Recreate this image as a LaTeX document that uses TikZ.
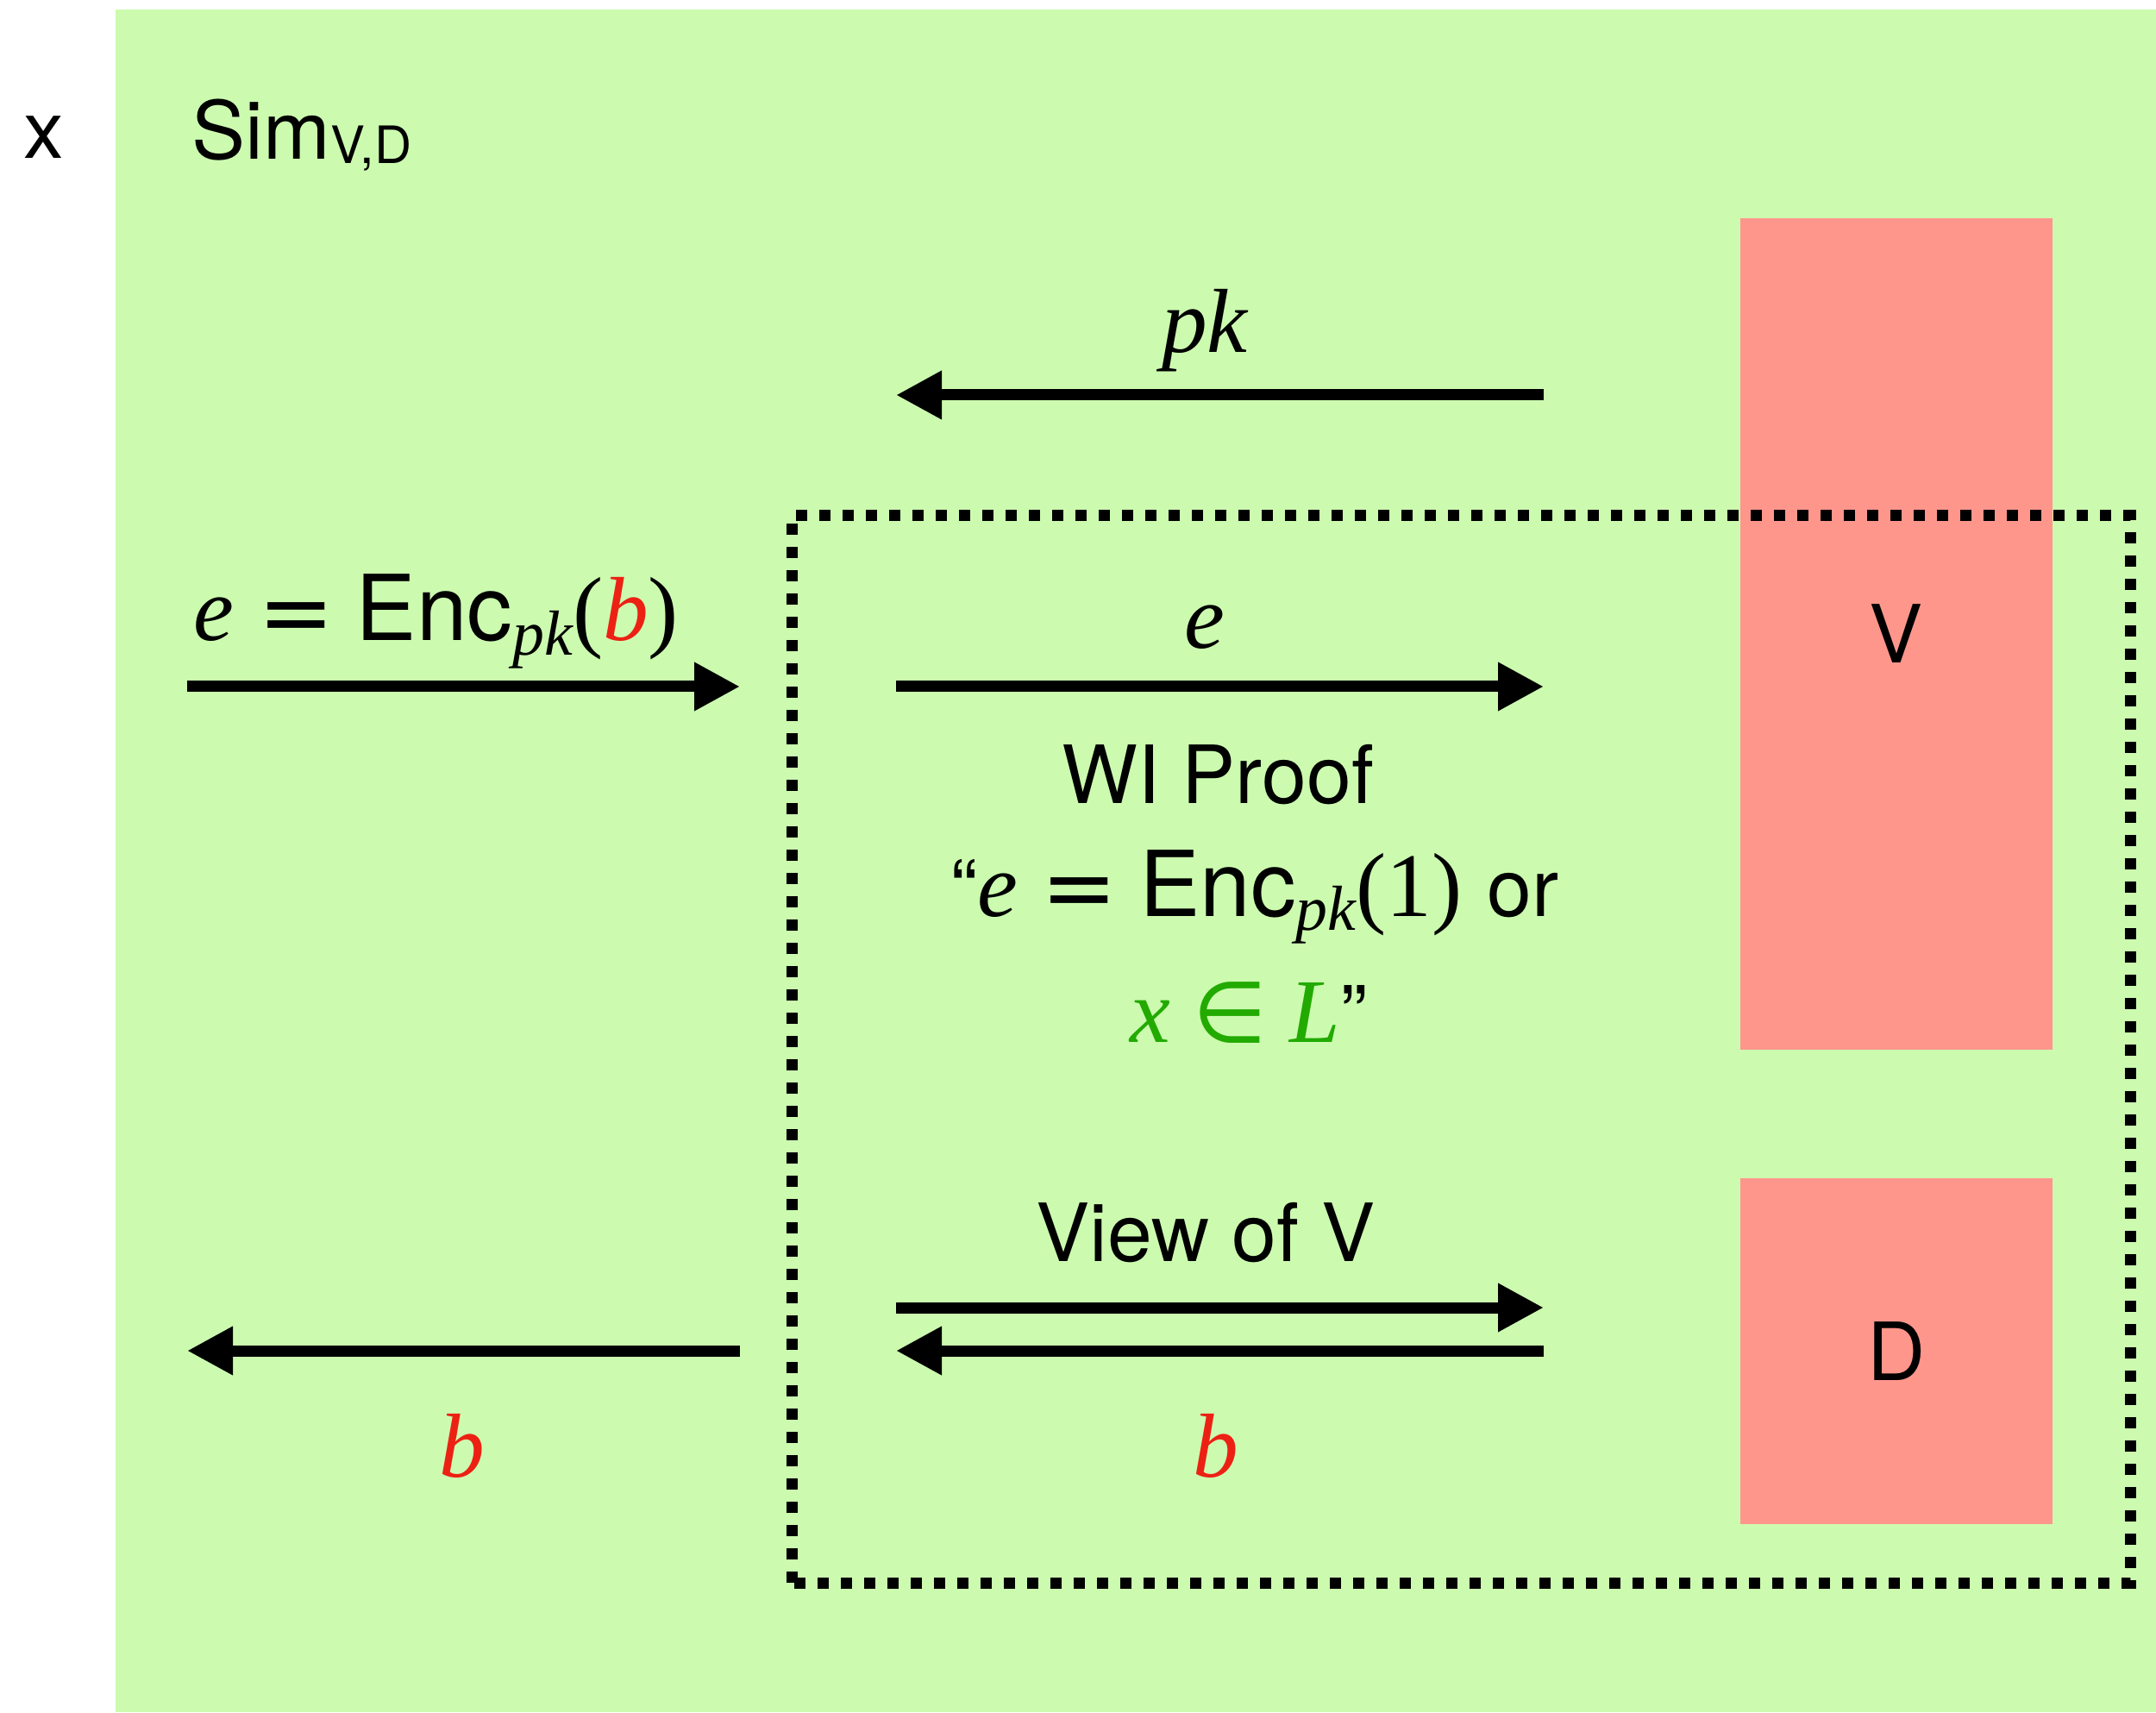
\documentclass[tikz,border=0pt]{standalone}
\usepackage{xcolor}
\usepackage{fontspec}
\setmainfont{TeX Gyre Heros}
\newfontfamily\tms{Liberation Serif}
\newfontfamily\symf{DejaVu Sans}
\usepackage{tikz}
\usetikzlibrary{arrows.meta}
\definecolor{simgreen}{RGB}{204,251,176}
\definecolor{partyred}{RGB}{255,150,140}
\definecolor{bitred}{RGB}{236,33,20}
\definecolor{langgreen}{RGB}{34,170,0}
\newcommand{\mv}[1]{{\tms\itshape #1}}
\newcommand{\encpk}{Enc\raisebox{-0.16em}{\fontsize{21}{21}\selectfont\mv{pk}}}
\newcommand{\eqsign}{\hspace{0.26em}\raisebox{-0.03em}{\symf =}\hspace{0.24em}}
\tikzset{
  lbl/.style={font=\fontsize{26.5}{30}\selectfont, inner sep=0pt},
  mathlbl/.style={font=\fontsize{30}{34}\selectfont, inner sep=0pt},
  party/.style={fill=partyred, draw=none, inner sep=0pt, minimum width=3.62cm,
    font=\fontsize{26.5}{30}\selectfont},
  msg/.style={-{Triangle[length=5.3mm, width=5.3mm]}, line width=1.3mm},
  sandbox/.style={draw, line width=1.3mm, dash pattern=on 1.3mm off 1.4mm}
}

\begin{document}
\begin{tikzpicture}
\useasboundingbox (0,0) rectangle (25,19.85);
\fill[simgreen] (1.34,0) rectangle (25,19.74);

\node[lbl] (xin) at (0.51,18.26) {x};
\node[lbl, anchor=base west] (sim) at (2.22,18.00)
  {Sim\raisebox{-0.05cm}{\fontsize{17}{17}\selectfont V,D}};

\node[party, minimum height=9.64cm] (ver) at (21.99,12.50) {V};
\node[party, minimum height=4.01cm] (dist) at (21.99,4.185) {D};

\draw[sandbox] (9.18,1.50) rectangle (24.70,13.87);

\coordinate (pkR) at (17.90,15.27);
\coordinate (pkL) at (10.39,15.27);
\coordinate (encL) at (2.17,11.89);
\coordinate (encR) at (8.58,11.89);
\coordinate (eL) at (10.39,11.89);
\coordinate (eR) at (17.90,11.89);
\coordinate (viewL) at (10.39,4.69);
\coordinate (viewR) at (17.90,4.69);
\coordinate (bR) at (17.90,4.19);
\coordinate (bL) at (10.39,4.19);
\coordinate (outR) at (8.58,4.19);
\coordinate (outL) at (2.17,4.19);

\node[mathlbl] (pklbl) at (13.97,16.02) {\mv{pk}};
\node[mathlbl, anchor=base] (enclbl) at (5.06,12.42)
  {\mv{e}\eqsign\encpk{\tms(}\textcolor{bitred}{\mv{b}}{\tms)}};
\node[mathlbl, anchor=base] (elbl) at (13.97,12.33) {\mv{e}};
\node[lbl, anchor=base] (wi) at (14.12,10.53) {WI Proof};
\node[mathlbl, anchor=base] (claima) at (14.55,9.23)
  {\fontsize{26.5}{30}\selectfont“\fontsize{30}{34}\selectfont\mv{e}\eqsign\encpk{\tms(1)}
   \fontsize{26.5}{30}\selectfont or};
\node[mathlbl, anchor=base] (claimb) at (14.48,7.77)
  {\textcolor{langgreen}{\mv{x}\hspace{0.25em}{\symf\fontsize{28}{30}\selectfont ∈}\hspace{0.25em}\mv{L}}\fontsize{26.5}{30}\selectfont ”};
\node[lbl, anchor=base] (viewlbl) at (13.98,5.23) {View of V};
\node[mathlbl, anchor=base] (bmid) at (14.10,2.73) {\textcolor{bitred}{\mv{b}}};
\node[mathlbl, anchor=base] (bout) at (5.36,2.73) {\textcolor{bitred}{\mv{b}}};

\draw[msg] (pkR) -- (pkL);
\draw[msg] (encL) -- (encR);
\draw[msg] (eL) -- (eR);
\draw[msg] (viewL) -- (viewR);
\draw[msg] (bR) -- (bL);
\draw[msg] (outR) -- (outL);
\end{tikzpicture}
\end{document}
